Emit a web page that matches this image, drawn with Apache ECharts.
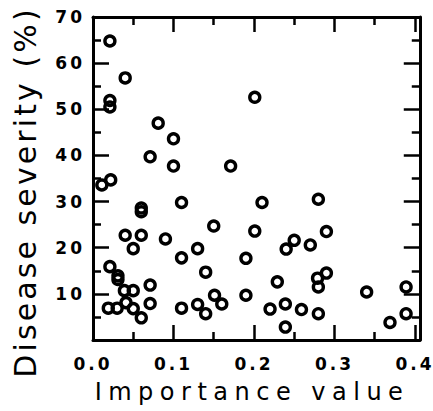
<!DOCTYPE html>
<html>
<head>
<meta charset="utf-8">
<script src="https://cdn.jsdelivr.net/npm/echarts@6/dist/echarts.min.js"></script>
<style>
html,body{margin:0;padding:0;background:#fff;}
#chart{width:433px;height:411px;}
</style>
</head>
<body>
<div id="chart"></div>
<script>
// Importance value (x) and disease severity % (y)
const importance = [
  0.021, 0.040, 0.021, 0.021, 0.081, 0.100, 0.071, 0.100, 0.171, 0.201,
  0.011, 0.022, 0.060, 0.060, 0.110, 0.210, 0.280, 0.040, 0.060, 0.050,
  0.090, 0.110, 0.130, 0.150, 0.201, 0.190, 0.240, 0.250, 0.270, 0.290,
  0.021, 0.031, 0.031, 0.039, 0.050, 0.071, 0.019, 0.030, 0.041, 0.050,
  0.060, 0.071, 0.110, 0.130, 0.140, 0.140, 0.151, 0.160, 0.190, 0.220,
  0.229, 0.239, 0.239, 0.259, 0.280, 0.280, 0.279, 0.290, 0.340, 0.369,
  0.389, 0.389
];
const severity = [
  64.8, 56.8, 51.9, 50.5, 47.0, 43.6, 39.7, 37.7, 37.7, 52.6,
  33.6, 34.7, 28.6, 27.8, 29.8, 29.8, 30.5, 22.7, 22.7, 19.8,
  21.9, 17.8, 19.8, 24.7, 23.6, 17.7, 19.7, 21.6, 20.6, 23.5,
  15.9, 13.9, 13.1, 10.7, 10.7, 11.9, 6.9, 6.9, 8.1, 6.8,
  4.8, 7.9, 6.9, 7.7, 5.7, 14.7, 9.7, 7.8, 9.7, 6.7,
  12.6, 7.8, 2.8, 6.6, 5.7, 11.5, 13.4, 14.5, 10.4, 3.8,
  11.5, 5.7
];
const xTickLabels = ['0.0', '0.1', '0.2', '0.3', '0.4'];
const yTickLabels = ['10', '20', '30', '40', '50', '60', '70'];
const xTitle = 'Importance value';
const yTitle = 'Disease severity (%)';

const points = importance.map((v, i) => [v, severity[i]]);

const chart = echarts.init(document.getElementById('chart'), null, {renderer: 'svg'});

const lineStyle = {color: '#000', width: 3};
const tickStyle = {color: '#000', width: 2.5};
const labelFont = {color: '#000', fontFamily: 'DejaVu Sans', fontWeight: 'bold', fontSize: 17};

function xFmt(v) {
  const k = Math.round(v * 10);
  if (Math.abs(v * 10 - k) > 1e-6) return '';
  const s = (k / 10).toFixed(1);
  return xTickLabels.indexOf(s) >= 0 ? s : '';
}
function yFmt(v) {
  const s = String(Math.round(v));
  return yTickLabels.indexOf(s) >= 0 && Math.abs(v - Math.round(v)) < 1e-6 ? s : '';
}

function xAxisDef(pos, showLabel) {
  return {
    type: 'value', position: pos, min: 0, max: 0.406, interval: 0.1,
    axisLine: {show: true, onZero: false, lineStyle: lineStyle},
    axisTick: {show: true, inside: true, length: 15, lineStyle: tickStyle},
    minorTick: {show: true, splitNumber: 2, length: 8, lineStyle: tickStyle},
    splitLine: {show: false}, minorSplitLine: {show: false},
    axisLabel: Object.assign({show: showLabel, margin: 15, formatter: xFmt}, labelFont)
  };
}
function yAxisDef(pos, showLabel) {
  return {
    type: 'value', position: pos, min: 0, max: 70, interval: 10,
    axisLine: {show: true, onZero: false, lineStyle: lineStyle},
    axisTick: {show: true, inside: true, length: 16, lineStyle: tickStyle},
    minorTick: {show: true, splitNumber: 2, length: 8, lineStyle: tickStyle},
    splitLine: {show: false}, minorSplitLine: {show: false},
    axisLabel: Object.assign({show: showLabel, margin: 8, formatter: yFmt}, labelFont)
  };
}

chart.setOption({
  animation: false,
  backgroundColor: '#fff',
  grid: {left: 93, top: 17, width: 330, height: 323, containLabel: false},
  xAxis: [xAxisDef('bottom', true), xAxisDef('top', false)],
  yAxis: [yAxisDef('left', true), yAxisDef('right', false)],
  graphic: [
    {type: 'text', x: 252, y: 392, style: {text: xTitle, fill: '#000', font: 'normal 24px "DejaVu Sans"', align: 'center', verticalAlign: 'middle'}},
    {type: 'text', x: 25, y: 192, rotation: Math.PI / 2, style: {text: yTitle, fill: '#000', font: 'normal 30px "DejaVu Sans"', align: 'center', verticalAlign: 'middle'}}
  ],
  series: [{
    type: 'scatter', xAxisIndex: 0, yAxisIndex: 0,
    data: points,
    symbol: 'circle', symbolSize: 10,
    itemStyle: {color: 'rgba(0,0,0,0)', borderColor: '#000', borderWidth: 3.4, opacity: 1}
  }]
});

function applySpacing() {
  const texts = document.querySelectorAll('#chart svg text');
  texts.forEach(t => {
    const c = t.textContent;
    let s = '3px';
    if (c === xTitle) s = '6.5px';
    else if (c === yTitle) s = '3.1px';
    t.setAttribute('letter-spacing', s);
    t.style.letterSpacing = s;
  });
}
chart.on('finished', applySpacing);
applySpacing();
setTimeout(applySpacing, 50);
setTimeout(applySpacing, 300);
</script>
</body>
</html>
